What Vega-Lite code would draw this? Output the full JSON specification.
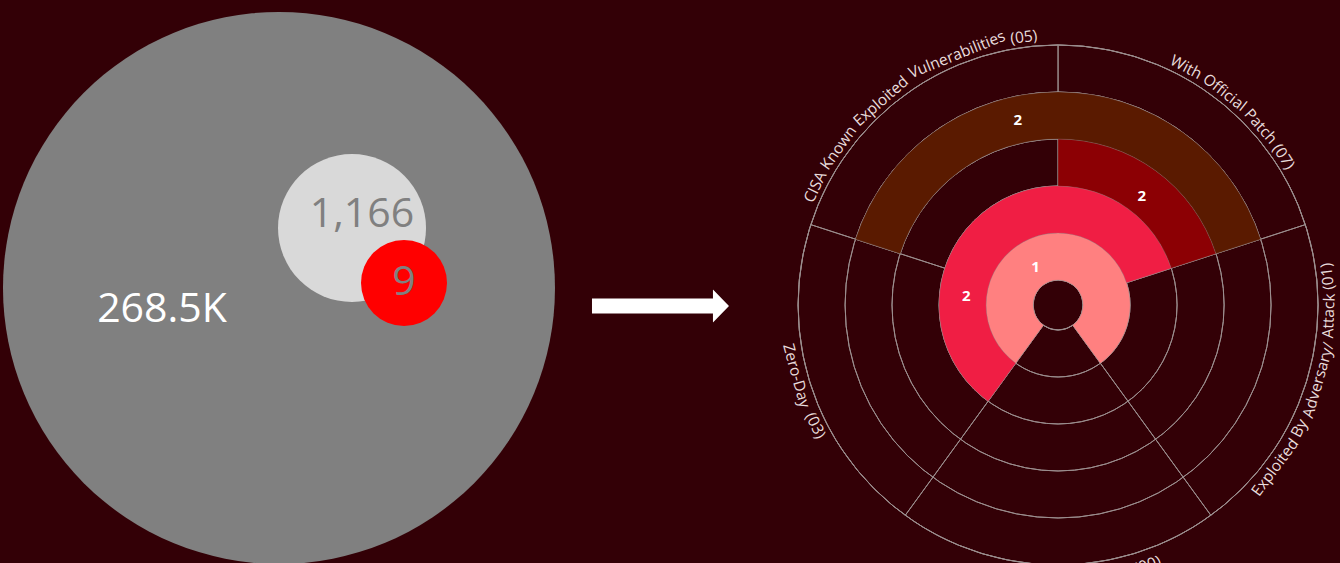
{
  "$schema": "https://vega.github.io/schema/vega-lite/v6.json",
  "width": 1340,
  "height": 563,
  "autosize": {"type": "none"},
  "padding": 0,
  "background": "#330006",
  "config": {"view": {"stroke": null}, "axis": {"disable": true}, "legend": {"disable": true}},
  "datasets": {
    "bubbles": [
      {"tier": "All CVEs", "label": "268.5K", "value": 268500, "px": 20.82, "py": 51.15, "lx": 12.09, "ly": 55.06},
      {"tier": "Known Exploited", "label": "1,166", "value": 1166, "px": 26.27, "py": 40.5, "lx": 27.01, "ly": 38.19},
      {"tier": "Selected", "label": "9", "value": 9, "px": 30.15, "py": 50.27, "lx": 30.15, "ly": 50.27}
    ],
    "sectors": [
      {"cat": "With Official Patch", "from": 0, "to": 1},
      {"cat": "Exploited By Adversary/ Attack", "from": 1, "to": 2},
      {"cat": "Public Exploit", "from": 2, "to": 3},
      {"cat": "Zero-Day", "from": 3, "to": 4},
      {"cat": "CISA Known Exploited Vulnerabilities", "from": 4, "to": 5}
    ],
    "rings": [{"r": 0}, {"r": 1}, {"r": 2}, {"r": 3}, {"r": 4}, {"r": 5}],
    "segments": [
      {"set": "Patch + Exploited + Zero-Day + CISA", "inner": 0, "outer": 1, "from": 3, "to": 7, "count": 1, "lt": 4.57, "lr": 0.4},
      {"set": "Patch + Zero-Day + CISA", "inner": 1, "outer": 2, "from": 3, "to": 6, "count": 2, "lt": 3.83, "lr": 1.43},
      {"set": "Patch only", "inner": 2, "outer": 3, "from": 0, "to": 1, "count": 2, "lt": 0.52, "lr": 2.4},
      {"set": "Patch + CISA", "inner": 3, "outer": 4, "from": 4, "to": 6, "count": 2, "lt": 4.83, "lr": 3.5}
    ],
    "wordsTop": [
      {"w": "CISA", "pos": 4.11}, {"w": "Known", "pos": 4.2445}, {"w": "Exploited", "pos": 4.4305},
      {"w": "Vulnerabilities", "pos": 4.6946}, {"w": "(05)", "pos": 4.8987},
      {"w": "With", "pos": 0.393}, {"w": "Official", "pos": 0.529}, {"w": "Patch", "pos": 0.675}, {"w": "(07)", "pos": 0.787}
    ],
    "wordsSide": [
      {"w": "Exploited", "pos": 1.761}, {"w": "By", "pos": 1.626}, {"w": "Adversary/", "pos": 1.474},
      {"w": "Attack", "pos": 1.282}, {"w": "(01)", "pos": 1.166},
      {"w": "Zero-Day", "pos": 3.54}, {"w": "(03)", "pos": 3.383}
    ],
    "wordsBottom": [
      {"w": "Public", "pos": 2.506}, {"w": "Exploit", "pos": 2.36}, {"w": "(00)", "pos": 2.236}
    ],
    "arrow": [{"item": "arrow"}]
  },
  "resolve": {"scale": {"angle": "independent", "color": "independent", "size": "independent"}},
  "layer": [
    {
      "data": {"name": "bubbles"},
      "mark": {"type": "point", "filled": true, "shape": "circle", "opacity": 1, "strokeWidth": 0},
      "encoding": {
        "x": {"field": "px", "type": "quantitative", "axis": null, "scale": {"domain": [0, 100], "nice": false, "zero": false}},
        "y": {"field": "py", "type": "quantitative", "axis": null, "scale": {"domain": [0, 100], "nice": false, "zero": false, "reverse": true}},
        "size": {"field": "tier", "type": "nominal", "legend": null, "scale": {"type": "ordinal", "domain": ["All CVEs", "Known Exploited", "Selected"], "range": [304704, 21904, 7396]}},
        "color": {"field": "tier", "type": "nominal", "legend": null, "scale": {"domain": ["All CVEs", "Known Exploited", "Selected"], "range": ["#808080", "#D9D9D9", "#FF0000"]}}
      }
    },
    {
      "data": {"name": "bubbles"},
      "mark": {"type": "text", "font": "Open Sans", "fontSize": 41, "align": "center", "baseline": "middle"},
      "encoding": {
        "x": {"field": "lx", "type": "quantitative", "axis": null},
        "y": {"field": "ly", "type": "quantitative", "axis": null},
        "text": {"field": "label"},
        "color": {"condition": {"test": "datum.tier === 'All CVEs'", "value": "#FFFFFF"}, "value": "#808080"}
      }
    },
    {
      "data": {"name": "arrow"},
      "mark": {"type": "point", "filled": true, "opacity": 1, "color": "#FFFFFF", "strokeWidth": 0, "size": 18769,
        "shape": "M-1,-0.11L0.766,-0.11L0.766,-0.241L1,0L0.766,0.241L0.766,0.11L-1,0.11Z"},
      "encoding": {
        "x": {"datum": 49.29, "type": "quantitative", "axis": null},
        "y": {"datum": 54.35, "type": "quantitative", "axis": null}
      }
    },
    {
      "data": {"name": "sectors"},
      "mark": {"type": "arc", "fillOpacity": 0, "stroke": "#9b8e8e", "strokeWidth": 1},
      "encoding": {
        "x": {"datum": 78.96, "type": "quantitative", "axis": null},
        "y": {"datum": 54.17, "type": "quantitative", "axis": null},
        "theta": {"field": "from", "type": "quantitative", "stack": null, "scale": {"domain": [0, 5], "range": [0, 6.283185307179586], "zero": false, "nice": false}},
        "theta2": {"field": "to"},
        "radius": {"datum": 0, "type": "quantitative", "scale": {"type": "linear", "domain": [0, 5], "range": [25, 260], "zero": false, "nice": false}},
        "radius2": {"datum": 5}
      }
    },
    {
      "data": {"name": "rings"},
      "mark": {"type": "arc", "fillOpacity": 0, "stroke": "#9b8e8e", "strokeWidth": 1},
      "encoding": {
        "x": {"datum": 78.96, "type": "quantitative", "axis": null},
        "y": {"datum": 54.17, "type": "quantitative", "axis": null},
        "theta": {"datum": 0, "type": "quantitative", "stack": null},
        "theta2": {"datum": 5},
        "radius": {"field": "r", "type": "quantitative"},
        "radius2": {"field": "r"}
      }
    },
    {
      "data": {"name": "segments"},
      "mark": {"type": "arc", "stroke": "#9b8e8e", "strokeWidth": 0.4, "strokeOpacity": 0.6},
      "encoding": {
        "x": {"datum": 78.96, "type": "quantitative", "axis": null},
        "y": {"datum": 54.17, "type": "quantitative", "axis": null},
        "theta": {"field": "from", "type": "quantitative", "stack": null},
        "theta2": {"field": "to"},
        "radius": {"field": "inner", "type": "quantitative"},
        "radius2": {"field": "outer"},
        "color": {"field": "set", "type": "nominal", "legend": null,
          "scale": {"domain": ["Patch + Exploited + Zero-Day + CISA", "Patch + Zero-Day + CISA", "Patch only", "Patch + CISA"],
                    "range": ["#FF8080", "#F01E44", "#8C0004", "#5A1A00"]}}
      }
    },
    {
      "data": {"name": "segments"},
      "mark": {"type": "text", "font": "Open Sans", "fontSize": 15, "fontWeight": "bold", "color": "#FFFFFF", "align": "center", "baseline": "middle"},
      "encoding": {
        "x": {"datum": 78.96, "type": "quantitative", "axis": null},
        "y": {"datum": 54.17, "type": "quantitative", "axis": null},
        "theta": {"field": "lt", "type": "quantitative", "stack": null},
        "radius": {"field": "lr", "type": "quantitative"},
        "text": {"field": "count"}
      }
    },
    {
      "data": {"name": "wordsTop"},
      "mark": {"type": "text", "font": "Open Sans", "fontSize": 15.5, "color": "#E8DCDC", "align": "center", "baseline": "alphabetic"},
      "encoding": {
        "x": {"datum": 78.96, "type": "quantitative", "axis": null},
        "y": {"datum": 54.17, "type": "quantitative", "axis": null},
        "theta": {"field": "pos", "type": "quantitative", "stack": null},
        "radius": {"datum": 5.106, "type": "quantitative"},
        "angle": {"field": "pos", "type": "quantitative", "scale": {"domain": [0, 5], "range": [0, 360], "zero": false, "nice": false}},
        "text": {"field": "w"}
      }
    },
    {
      "data": {"name": "wordsSide"},
      "mark": {"type": "text", "font": "Open Sans", "fontSize": 15.5, "color": "#E8DCDC", "align": "center", "baseline": "top"},
      "encoding": {
        "x": {"datum": 78.96, "type": "quantitative", "axis": null},
        "y": {"datum": 54.17, "type": "quantitative", "axis": null},
        "theta": {"field": "pos", "type": "quantitative", "stack": null},
        "radius": {"datum": 5.085, "type": "quantitative"},
        "angle": {"field": "pos", "type": "quantitative", "scale": {"domain": [0, 5], "range": [-180, 180], "zero": false, "nice": false}},
        "text": {"field": "w"}
      }
    },
    {
      "data": {"name": "wordsBottom"},
      "mark": {"type": "text", "font": "Open Sans", "fontSize": 15.5, "color": "#E8DCDC", "align": "center", "baseline": "top"},
      "encoding": {
        "x": {"datum": 78.96, "type": "quantitative", "axis": null},
        "y": {"datum": 54.17, "type": "quantitative", "axis": null},
        "theta": {"field": "pos", "type": "quantitative", "stack": null},
        "radius": {"datum": 5.17, "type": "quantitative"},
        "angle": {"field": "pos", "type": "quantitative", "scale": {"domain": [0, 5], "range": [-180, 180], "zero": false, "nice": false}},
        "text": {"field": "w"}
      }
    }
  ]
}
